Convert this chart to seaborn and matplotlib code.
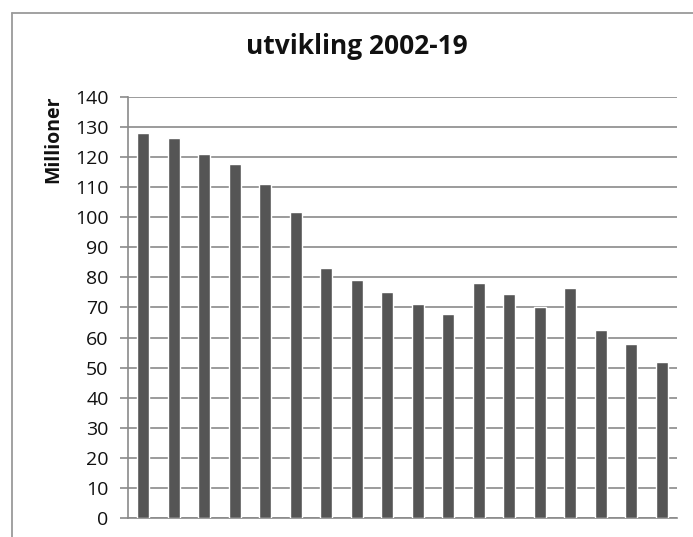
import matplotlib
matplotlib.use("Agg")
import matplotlib.pyplot as plt
import seaborn as sns
import pandas as pd
from matplotlib.lines import Line2D

# values (millions)
years = [str(y) for y in range(2002, 2020)]
values = [128, 126.5, 121, 117.7, 111.2, 101.8, 83, 79, 75, 71, 67.8,
          78, 74.5, 70.2, 76.6, 62.5, 58, 52]
yticks = list(range(0, 141, 10))

df = pd.DataFrame({"year": years, "value": values})

sns.set_theme(style="white")
plt.rcParams["font.family"] = ["Open Sans", "DejaVu Sans"]

fig = plt.figure(figsize=(6.93, 5.37), dpi=100)
ax = fig.add_axes([0.1847, 0.0354, 0.7923, 0.7840])

sns.barplot(data=df, x="year", y="value", color="#555555", width=0.39,
            saturation=1, ax=ax, zorder=3)

grid_c = "#8a8a8a"
ax.set_ylim(0, 140)
ax.set_yticks(yticks)
ax.set_yticklabels([str(t) for t in yticks], fontsize=14, color="#111111")
ax.yaxis.grid(True, color=grid_c, linewidth=1.2, zorder=0)
ax.set_xticks([])
ax.set_xlabel("")
ax.set_ylabel("Millioner", fontsize=14, fontweight="bold", color="#111111")
ax.yaxis.set_label_coords(-0.118, 0.90)
ax.tick_params(axis="y", which="major", left=True, length=6, width=1.2,
               color=grid_c, pad=8)
for side in ["top", "right"]:
    ax.spines[side].set_visible(False)
for side in ["left", "bottom"]:
    ax.spines[side].set_color(grid_c)
    ax.spines[side].set_linewidth(1.2)

fig.suptitle("utvikling 2002-19", x=0.515, y=0.938, fontsize=19,
             fontweight="bold", color="#111111")

# scanned chart-area frame (left and top edges)
W, H = 693, 537
fig.add_artist(Line2D([12 / W, 12 / W], [0, 1 - 13 / H], color="#9a9a9a",
                      linewidth=1.3, transform=fig.transFigure))
fig.add_artist(Line2D([12 / W, 1], [1 - 13 / H, 1 - 13 / H], color="#9a9a9a",
                      linewidth=1.3, transform=fig.transFigure))

fig.savefig("out.png", dpi=100)
